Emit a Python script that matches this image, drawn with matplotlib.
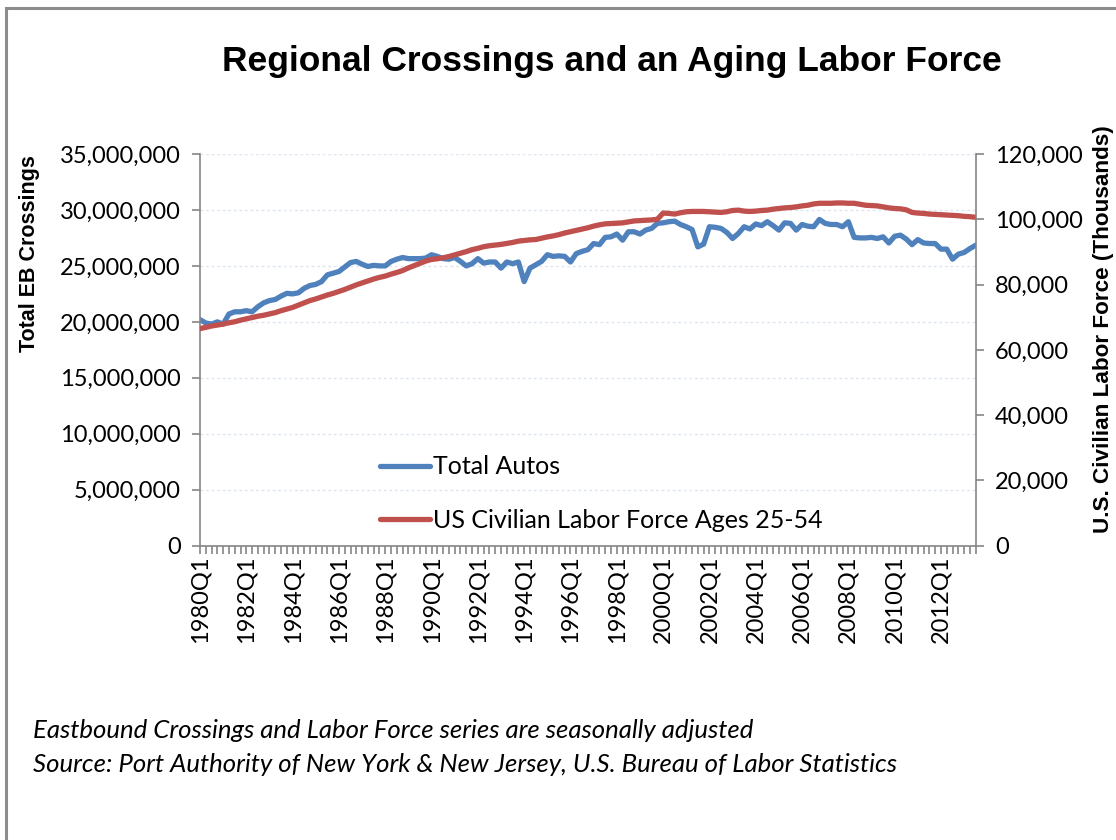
import numpy as np
import matplotlib
matplotlib.use("Agg")
import matplotlib.pyplot as plt
from matplotlib.patches import Rectangle
from matplotlib.ticker import FuncFormatter, MultipleLocator, FixedLocator

plt.rcParams['font.family'] = ['Lato', 'DejaVu Sans']
BOLD_FONT = ['Liberation Sans', 'DejaVu Sans']

# ---------------------------------------
# data (quarterly, 1980Q1 .. 2013Q3)
# ---------------------------------------
start_year = 1980
n_quarters = 135

# Total eastbound auto crossings, millions
total_autos = [
    20.2, 19.9, 19.8, 20.0, 19.8, 20.7, 20.9, 20.9,    # 1980-81
    21.0, 20.9, 21.35, 21.7, 21.9, 22.0, 22.3, 22.55,  # 1982-83
    22.5, 22.6, 23.0, 23.25, 23.35, 23.6, 24.2, 24.35, # 1984-85
    24.5, 24.9, 25.3, 25.4, 25.15, 24.95, 25.05, 25.0, # 1986-87
    25.0, 25.4, 25.6, 25.75, 25.65, 25.65, 25.65, 25.7, # 1988-89
    26.0, 25.85, 25.65, 25.6, 25.75, 25.4, 25.0, 25.2, # 1990-91
    25.65, 25.25, 25.35, 25.35, 24.8, 25.35, 25.2, 25.35, # 1992-93
    23.6, 24.8, 25.1, 25.4, 26.0, 25.85, 25.9, 25.85,  # 1994-95
    25.35, 26.1, 26.3, 26.45, 27.0, 26.9, 27.55, 27.6, # 1996-97
    27.85, 27.3, 28.05, 28.05, 27.85, 28.2, 28.35, 28.8, # 1998-99
    28.85, 28.95, 29.0, 28.7, 28.5, 28.25, 26.7, 26.95, # 2000-01
    28.5, 28.45, 28.35, 28.0, 27.45, 27.9, 28.5, 28.3, # 2002-03
    28.75, 28.6, 28.95, 28.6, 28.2, 28.85, 28.8, 28.2, # 2004-05
    28.7, 28.55, 28.5, 29.15, 28.8, 28.7, 28.7, 28.5,  # 2006-07
    28.95, 27.55, 27.5, 27.5, 27.55, 27.45, 27.6, 27.05, # 2008-09
    27.65, 27.75, 27.4, 26.9, 27.35, 27.05, 27.0, 27.0, # 2010-11
    26.5, 26.5, 25.6, 26.05, 26.2, 26.55, 26.85,        # 2012-13Q3
]

# US civilian labor force ages 25-54, thousands
labor_force = [
    66.5, 66.9, 67.3, 67.6, 67.9, 68.3, 68.6, 69.1,
    69.5, 69.9, 70.3, 70.6, 71.0, 71.4, 72.0, 72.5,
    73.0, 73.7, 74.4, 75.1, 75.6, 76.2, 76.8, 77.3,
    77.9, 78.5, 79.2, 79.9, 80.5, 81.1, 81.7, 82.2,
    82.6, 83.2, 83.7, 84.3, 85.1, 85.8, 86.5, 87.2,
    87.7, 87.9, 88.2, 88.6, 89.1, 89.6, 90.1, 90.7,
    91.1, 91.6, 91.9, 92.1, 92.3, 92.6, 92.9, 93.3,
    93.5, 93.7, 93.8, 94.2, 94.6, 94.9, 95.3, 95.8,
    96.2, 96.6, 97.0, 97.4, 97.9, 98.3, 98.6, 98.7,
    98.8, 98.9, 99.2, 99.5, 99.6, 99.7, 99.8, 100.0,
    101.9, 101.8, 101.6, 102.0, 102.3, 102.4, 102.4, 102.4,
    102.3, 102.2, 102.1, 102.3, 102.7, 102.8, 102.5, 102.4,
    102.5, 102.7, 102.8, 103.1, 103.3, 103.5, 103.6, 103.8,
    104.1, 104.3, 104.7, 104.9, 104.9, 104.9, 105.0, 105.0,
    104.9, 104.9, 104.6, 104.3, 104.2, 104.1, 103.8, 103.5,
    103.3, 103.2, 102.9, 102.1, 101.9, 101.8, 101.6, 101.5,
    101.4, 101.3, 101.2, 101.1, 100.9, 100.8, 100.6,
]

quarter_labels = [f"{start_year + i // 4}Q{i % 4 + 1}" for i in range(n_quarters)]

autos = np.array(total_autos) * 1e6
labor = np.array(labor_force) * 1e3
x = np.arange(n_quarters)

BLUE = '#4F81BD'
RED = '#C0504D'
GRAY = '#868686'

W, H = 1116, 840
fig = plt.figure(figsize=(W / 100, H / 100), dpi=100)
ax1 = fig.add_axes([200 / W, 1 - 545.7 / H, 775.7 / W, 391.7 / H])
ax2 = ax1.twinx()

ax1.plot(x, autos, color=BLUE, lw=3.8, solid_capstyle='round', label='Total Autos')
ax2.plot(x, labor, color=RED, lw=3.8, solid_capstyle='round',
         label='US Civilian Labor Force Ages 25-54')

ax1.set_xlim(0, n_quarters - 1)
ax1.set_ylim(0, 35e6)
ax2.set_ylim(0, 120000)
ax1.yaxis.set_major_locator(MultipleLocator(5e6))
ax2.yaxis.set_major_locator(MultipleLocator(20000))
fmt = FuncFormatter(lambda v, p: f"{v:,.0f}")
ax1.yaxis.set_major_formatter(fmt)
ax2.yaxis.set_major_formatter(fmt)

# x axis: tick every quarter, label every 2 years
major = list(range(0, n_quarters, 8))
ax1.xaxis.set_major_locator(FixedLocator(major))
ax1.set_xticklabels([quarter_labels[i] for i in major], rotation=90, va='top', ha='center')
ax1.xaxis.set_minor_locator(FixedLocator(range(n_quarters)))

ax1.grid(axis='y', color='#DDE5F0', lw=1.0, ls=(0, (2, 2)))
ax1.set_axisbelow(True)

for ax in (ax1, ax2):
    ax.spines['top'].set_visible(False)
    for s in ('left', 'right', 'bottom'):
        ax.spines[s].set_color(GRAY)
        ax.spines[s].set_linewidth(1.2)
    ax.tick_params(axis='both', which='both', color=GRAY, width=1.2, length=6,
                   labelsize=17, direction='out')
ax1.tick_params(axis='x', which='major', pad=1)
ax1.tick_params(axis='y', pad=8)
ax2.tick_params(axis='y', pad=8)
ax2.spines['bottom'].set_visible(False)
ax2.spines['left'].set_visible(False)
ax1.spines['right'].set_visible(False)

# legend
h1, l1 = ax1.get_legend_handles_labels()
h2, l2 = ax2.get_legend_handles_labels()
fig.legend(h1 + h2, l1 + l2, loc='upper left',
           bbox_to_anchor=(357 / W, 1 - 433 / H), frameon=False,
           fontsize=18, handlelength=2.0, handletextpad=0.15, labelspacing=1.22)

# titles and labels
fig.text(612 / W, 1 - 62 / H, 'Regional Crossings and an Aging Labor Force',
         ha='center', va='center', fontsize=25.5, fontweight='bold', family=BOLD_FONT)
fig.text(30 / W, 1 - 254 / H, 'Total EB Crossings', rotation=90,
         ha='center', va='center', fontsize=15.5, fontweight='bold', family=BOLD_FONT)
fig.text(1103 / W, 1 - 329 / H, 'U.S. Civilian Labor Force (Thousands)', rotation=90,
         ha='center', va='center', fontsize=16.2, fontweight='bold', family=BOLD_FONT)

fig.text(33 / W, 1 - 730 / H,
         'Eastbound Crossings and Labor Force series are seasonally adjusted',
         ha='left', va='center', fontsize=18.5, style='italic')
fig.text(33 / W, 1 - 764 / H,
         'Source: Port Authority of New York & New Jersey, U.S. Bureau of Labor Statistics',
         ha='left', va='center', fontsize=18.5, style='italic')

# outer frame of the chart area
fig.patches.append(Rectangle((6 / W, -0.05), 1.2, 1 - 8 / H + 0.05, transform=fig.transFigure,
                             fill=False, edgecolor='#8C8C8C', lw=2.2))

fig.savefig('out.png', dpi=100)
